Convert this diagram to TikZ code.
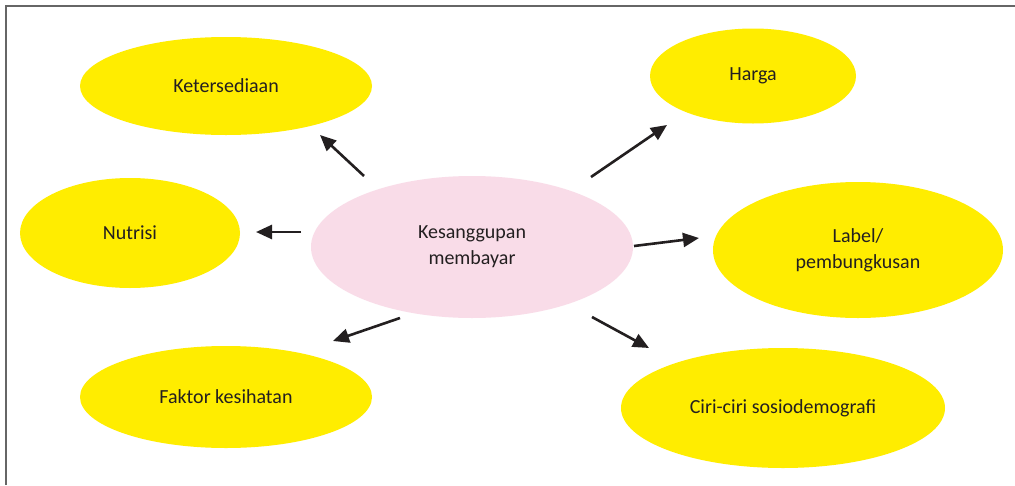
\documentclass[tikz,border=0pt]{standalone}
\usepackage{fontspec}
\setmainfont{Carlito}
\usetikzlibrary{arrows.meta,shapes.geometric}
\definecolor{yel}{HTML}{FFED00}
\definecolor{pnk}{HTML}{F9DCE8}
\definecolor{txt}{HTML}{231F20}
\definecolor{frm}{HTML}{666666}
\tikzset{
  bubble/.style={ellipse, fill=yel, draw=none, inner sep=0pt, text=txt, align=center},
  hub/.style={ellipse, fill=pnk, draw=none, inner sep=0pt, text=txt, align=center},
  link/.style={line width=2.6pt, draw=txt, -{Triangle[length=16pt,width=14pt]}},
}
\begin{document}
\begin{tikzpicture}[x=1pt,y=-1pt, font=\fontsize{20}{26}\selectfont]
\useasboundingbox (0,0) rectangle (1015,485);
\fill[white] (0,0) rectangle (1015,485);
\draw[frm, line width=2pt] (6,485) -- (6,6) -- (1015,6);

\node[bubble, minimum width=292pt, minimum height=98pt] (ket) at (226,86) {Ketersediaan};
\node[bubble, minimum width=206pt, minimum height=95pt] (har) at (753,76) {Harga};
\node[bubble, minimum width=220pt, minimum height=110pt] (nut) at (130,233) {Nutrisi};
\node[hub, minimum width=322pt, minimum height=142pt] (kes) at (472,247) {Kesanggupan\\membayar};
\node[bubble, minimum width=290pt, minimum height=136pt] (lab) at (858,250) {Label/\\pembungkusan};
\node[bubble, minimum width=292pt, minimum height=102pt] (fak) at (226,397) {Faktor kesihatan};
\node[bubble, minimum width=324pt, minimum height=120pt] (cir) at (783,408) {Ciri-ciri sosiodemografi};

\coordinate (a1s) at (364,176); \coordinate (a1e) at (320,135);
\coordinate (a2s) at (301,232); \coordinate (a2e) at (256,232);
\coordinate (a3s) at (400,318); \coordinate (a3e) at (333,341);
\coordinate (a4s) at (591,177); \coordinate (a4e) at (667,125);
\coordinate (a5s) at (634,246); \coordinate (a5e) at (699,238);
\coordinate (a6s) at (592,317); \coordinate (a6e) at (649,348);

\draw[link] (a1s) -- (a1e);
\draw[link] (a2s) -- (a2e);
\draw[link] (a3s) -- (a3e);
\draw[link] (a4s) -- (a4e);
\draw[link] (a5s) -- (a5e);
\draw[link] (a6s) -- (a6e);
\end{tikzpicture}
\end{document}
